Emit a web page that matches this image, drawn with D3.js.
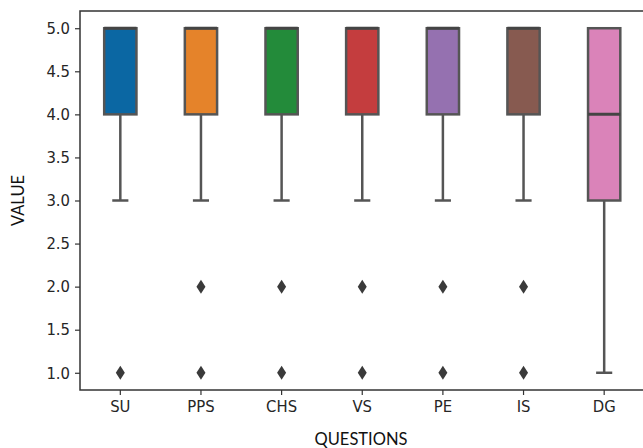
<!DOCTYPE html>
<html><head><meta charset="utf-8">
<script src="https://cdn.jsdelivr.net/npm/d3@7"></script>
<style>body{margin:0;background:#fff}svg{display:block}</style>
</head><body>
<script>
const categories = ["SU","PPS","CHS","VS","PE","IS","DG"];
const q1 = [4,4,4,4,4,4,3];
const medians = [5,5,5,5,5,5,4];
const q3 = [5,5,5,5,5,5,5];
const whiskerLow = [3,3,3,3,3,3,1];
const whiskerHigh = [5,5,5,5,5,5,5];
const outliers = [[1],[2,1],[2,1],[2,1],[2,1],[2,1],[]];
const colors = ["#0b67a3","#e5832a","#238b3a","#c43d3e","#9571b0","#875a50","#da83b9"];
const yTicks = [1.0,1.5,2.0,2.5,3.0,3.5,4.0,4.5,5.0];

const W=643,H=448;
const m={left:80,top:11,right:644.5,bottom:390};
const svg=d3.select("body").append("svg").attr("width",W).attr("height",H);
const x=d3.scaleBand().domain(categories).range([m.left,m.right]).paddingInner(0).paddingOuter(0);
const y=d3.scaleLinear().domain([0.8,5.2]).range([m.bottom,m.top]);
const bw=x.bandwidth()*0.4;
const lc="#555555";
const font="'DejaVu Sans Condensed', 'DejaVu Sans'";

const g=svg.append("g");
categories.forEach((c,i)=>{
  const cx=x(c)+x.bandwidth()/2;
  g.append("line").attr("x1",cx).attr("x2",cx).attr("y1",y(whiskerLow[i])).attr("y2",y(q1[i])).attr("stroke",lc).attr("stroke-width",2.5);
  g.append("line").attr("x1",cx).attr("x2",cx).attr("y1",y(whiskerHigh[i])).attr("y2",y(q3[i])).attr("stroke",lc).attr("stroke-width",2.5);
  g.append("line").attr("x1",cx-bw/4).attr("x2",cx+bw/4).attr("y1",y(whiskerLow[i])).attr("y2",y(whiskerLow[i])).attr("stroke",lc).attr("stroke-width",2.5);
  g.append("line").attr("x1",cx-bw/4).attr("x2",cx+bw/4).attr("y1",y(whiskerHigh[i])).attr("y2",y(whiskerHigh[i])).attr("stroke",lc).attr("stroke-width",2.5);
  g.append("rect").attr("x",cx-bw/2).attr("width",bw).attr("y",y(q3[i])).attr("height",y(q1[i])-y(q3[i]))
    .attr("fill",colors[i]).attr("stroke",lc).attr("stroke-width",2.5);
  g.append("line").attr("x1",cx-bw/2).attr("x2",cx+bw/2).attr("y1",y(medians[i])).attr("y2",y(medians[i])).attr("stroke","#444").attr("stroke-width",3);
  outliers[i].forEach(v=>{
    const py=y(v);
    g.append("path").attr("d",`M${cx},${py-7}L${cx+4.5},${py}L${cx},${py+7}L${cx-4.5},${py}Z`).attr("fill","#3a3a3a");
  });
});

const ya=svg.append("g").attr("transform",`translate(${m.left},0)`)
  .call(d3.axisLeft(y).tickValues(yTicks).tickFormat(d3.format(".1f")).tickSize(5).tickPadding(5));
const xa=svg.append("g").attr("transform",`translate(0,${m.bottom})`)
  .call(d3.axisBottom(x).tickSize(5).tickPadding(5));
[ya,xa].forEach(a=>{
  a.select(".domain").remove();
  a.selectAll("line").attr("stroke","#333").attr("stroke-width",1.2);
  a.selectAll("text").attr("font-family",font).attr("font-size",16.5).attr("fill","#262626");
});
svg.append("rect").attr("x",m.left).attr("y",m.top).attr("width",m.right-m.left).attr("height",m.bottom-m.top)
  .attr("fill","none").attr("stroke","#333").attr("stroke-width",1.5);

svg.append("text").attr("x",(m.left+642)/2).attr("y",445).attr("text-anchor","middle")
  .attr("font-family","Lato").attr("font-size",16.5).attr("fill","#111").text("QUESTIONS");
svg.append("text").attr("transform",`translate(24,${(m.top+m.bottom)/2}) rotate(-90)`).attr("text-anchor","middle")
  .attr("font-family","Lato").attr("font-size",16.5).attr("fill","#111").text("VALUE");
</script>
</body></html>
